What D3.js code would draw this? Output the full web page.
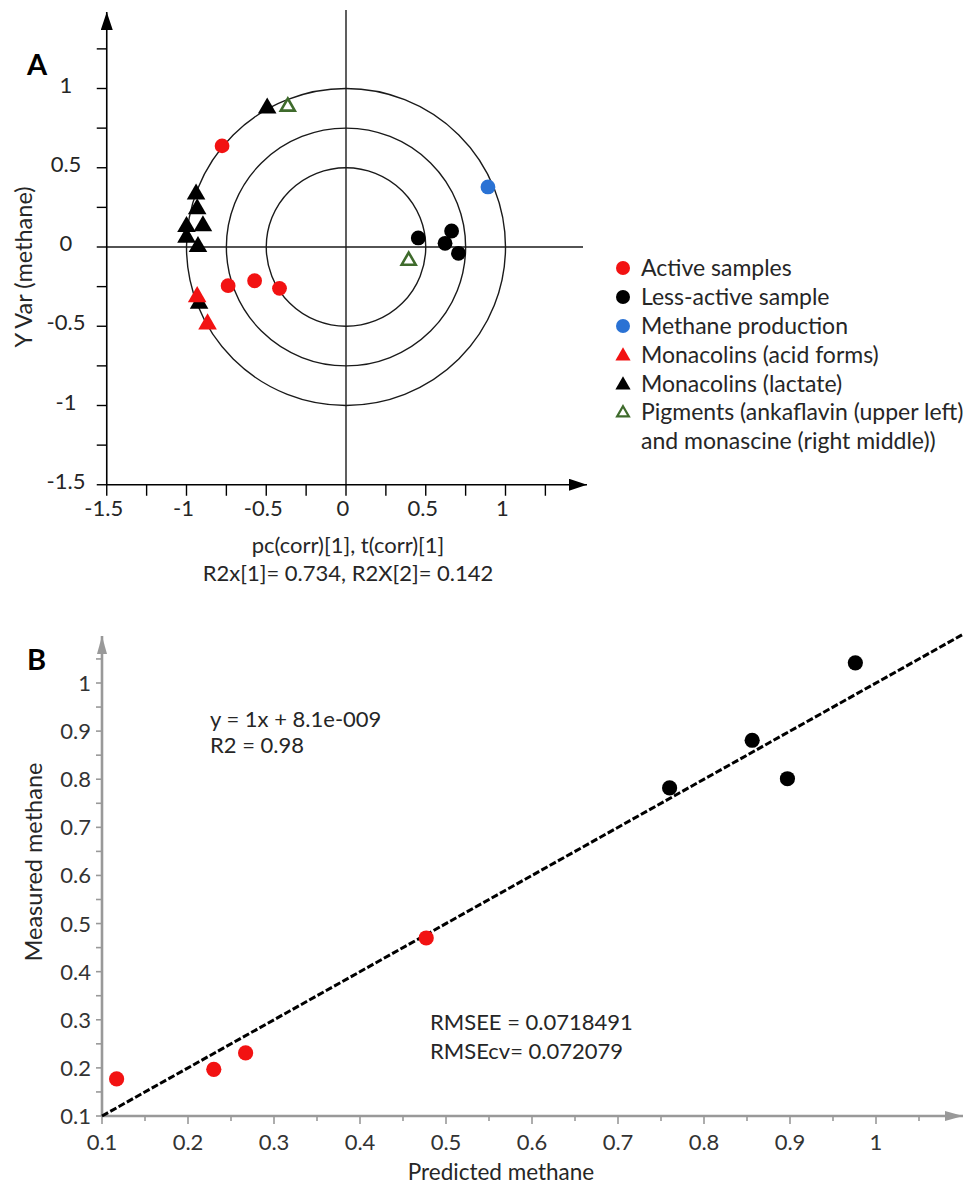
<!DOCTYPE html>
<html><head><meta charset="utf-8">
<script src="https://cdn.jsdelivr.net/npm/d3@7"></script>
<style>body{margin:0;background:#fff}svg{display:block}</style>
</head><body>
<script>
// ---------- DATA: Panel A ----------
const activeSamples = [[-0.777,0.638],[-0.739,-0.244],[-0.573,-0.213],[-0.417,-0.261]];
const lessActive = [[0.453,0.057],[0.621,0.023],[0.662,0.101],[0.705,-0.040]];
const methaneProd = [[0.890,0.379]];
const monacolinsAcid = [[-0.933,-0.314],[-0.868,-0.486]];
const monacolinsLactate = [[-0.494,0.876],[-0.940,0.333],[-0.933,0.240],[-1.0,0.128],[-0.897,0.133],[-1.0,0.061],[-0.928,0.002],[-0.921,-0.356]];
const pigments = [[-0.365,0.886],[0.393,-0.086]];
const circleRadii = [1, 0.75, 0.5];
const tickA = [-1.5,-1,-0.5,0,0.5,1];
const minorTickA = [-1.5,-1.25,-1,-0.75,-0.5,-0.25,0,0.25,0.5,0.75,1,1.25];
const legendLabels = ["Active samples","Less-active sample","Methane production","Monacolins (acid forms)","Monacolins (lactate)","Pigments (ankaflavin (upper left)","and monascine (right middle))"];

// ---------- DATA: Panel B ----------
const predActive = [0.117,0.230,0.267,0.477];
const measActive = [0.177,0.197,0.231,0.470];
const predLess = [0.760,0.856,0.897,0.976];
const measLess = [0.782,0.881,0.801,1.042];
const fitLine = [[0.1,0.1],[1.1,1.1]];
const tickB = [0.1,0.2,0.3,0.4,0.5,0.6,0.7,0.8,0.9,1];
const minorTickB = d3.range(0,20).map(i=>+(0.1+i*0.05).toFixed(2));

const W=971,H=1184;
const svg=d3.select("body").append("svg").attr("width",W).attr("height",H);
const FONT="Lato, 'Open Sans', sans-serif";
const TXT="#262626";

const defs=svg.append("defs");
function marker(id,color,len,wid){
  defs.append("marker").attr("id",id).attr("viewBox",`0 0 ${len} ${wid}`).attr("refX",len).attr("refY",wid/2)
    .attr("markerWidth",len).attr("markerHeight",wid).attr("markerUnits","userSpaceOnUse").attr("orient","auto")
    .append("path").attr("d",`M0,0 L${len},${wid/2} L0,${wid} z`).attr("fill",color);
}
marker("arrA","#000",18,12); marker("arrB","#999",18,10);

// ================= PANEL A =================
const xA=d3.scaleLinear().domain([-1.5,1.5]).range([346-1.5*159.5,346+1.5*159.5]);
const yA=d3.scaleLinear().domain([-1.5,1.5]).range([247+1.5*158.5,247-1.5*158.5]);
const gA=svg.append("g");
const axY=yA(-1.5), axX=xA(-1.5);

gA.selectAll("ellipse.ring").data(circleRadii).join("ellipse")
  .attr("cx",xA(0)).attr("cy",yA(0))
  .attr("rx",d=>xA(d)-xA(0)).attr("ry",d=>yA(0)-yA(d))
  .attr("fill","none").attr("stroke","#1a1a1a").attr("stroke-width",1.4);
gA.append("line").attr("x1",xA(0)).attr("x2",xA(0)).attr("y1",10).attr("y2",axY).attr("stroke","#1a1a1a").attr("stroke-width",1.4);
gA.append("line").attr("x1",axX).attr("x2",583).attr("y1",yA(0)).attr("y2",yA(0)).attr("stroke","#1a1a1a").attr("stroke-width",1.4);
gA.append("line").attr("x1",axX).attr("x2",587).attr("y1",axY).attr("y2",axY).attr("stroke","#000").attr("stroke-width",1.6).attr("marker-end","url(#arrA)");
gA.append("line").attr("x1",axX).attr("x2",axX).attr("y1",axY).attr("y2",12).attr("stroke","#000").attr("stroke-width",1.6).attr("marker-end","url(#arrA)");
gA.selectAll("line.tx").data(minorTickA).join("line").attr("x1",d=>xA(d)).attr("x2",d=>xA(d)).attr("y1",axY).attr("y2",axY+11).attr("stroke","#000").attr("stroke-width",1.4);
gA.selectAll("line.ty").data(minorTickA).join("line").attr("y1",d=>yA(d)).attr("y2",d=>yA(d)).attr("x1",axX-10).attr("x2",axX).attr("stroke","#000").attr("stroke-width",1.4);
gA.selectAll("text.tx").data(tickA).join("text").attr("x",d=>xA(d)-3).attr("y",516)
  .attr("text-anchor","middle").attr("font-family",FONT).attr("font-size",22).attr("fill",TXT).text(d=>d);
gA.selectAll("text.ty").data(tickA).join("text").attr("x",66).attr("y",d=>yA(d)+4)
  .attr("text-anchor","middle").attr("font-family",FONT).attr("font-size",22).attr("fill",TXT).text(d=>d);
gA.append("text").attr("x",27).attr("y",75).attr("font-family",FONT).attr("font-weight","bold").attr("font-size",29).text("A");
gA.append("text").attr("transform","translate(32,267) rotate(-90)").attr("text-anchor","middle").attr("font-family",FONT).attr("font-size",23.5).attr("fill",TXT).text("Y Var (methane)");
gA.append("text").attr("x",348).attr("y",553).attr("text-anchor","middle").attr("font-family",FONT).attr("font-size",22).attr("fill",TXT).text("pc(corr)[1], t(corr)[1]");
gA.append("text").attr("x",348).attr("y",581).attr("text-anchor","middle").attr("font-family",FONT).attr("font-size",22).attr("fill",TXT).text("R2x[1]= 0.734, R2X[2]= 0.142");

const RED="#f21212", BLUE="#2a72d4", GREEN="#3f6b2c";
const tri=d3.symbol().type(d3.symbolTriangle).size(150);
const triOpen=d3.symbol().type(d3.symbolTriangle).size(85);
function dots(data,color){gA.append("g").selectAll("circle").data(data).join("circle").attr("cx",d=>xA(d[0])).attr("cy",d=>yA(d[1])).attr("r",7.4).attr("fill",color);}
function tris(data,color){gA.append("g").selectAll("path").data(data).join("path").attr("transform",d=>`translate(${xA(d[0])},${yA(d[1])})`).attr("d",tri).attr("fill",color);}
dots(activeSamples,RED); dots(lessActive,"#000"); dots(methaneProd,BLUE);
tris(monacolinsLactate,"#000"); tris(monacolinsAcid,RED);
gA.append("g").selectAll("path").data(pigments).join("path").attr("transform",d=>`translate(${xA(d[0])},${yA(d[1])})`).attr("d",triOpen).attr("fill","none").attr("stroke",GREEN).attr("stroke-width",2.6);

// legend
const lg=svg.append("g");
const legY=[268,297,326,355,384,412,441];
const legMarks=[["c",RED],["c","#000"],["c",BLUE],["t",RED],["t","#000"],["o",GREEN],null];
legendLabels.forEach((t,i)=>{
  const y=legY[i], m=legMarks[i];
  if(m){
    if(m[0]==="c") lg.append("circle").attr("cx",623).attr("cy",y).attr("r",7).attr("fill",m[1]);
    else if(m[0]==="t") lg.append("path").attr("transform",`translate(623,${y+1})`).attr("d",d3.symbol().type(d3.symbolTriangle).size(100)).attr("fill",m[1]);
    else lg.append("path").attr("transform",`translate(623,${y+1})`).attr("d",d3.symbol().type(d3.symbolTriangle).size(60)).attr("fill","none").attr("stroke",m[1]).attr("stroke-width",2.2);
  }
  lg.append("text").attr("x",641).attr("y",y+8).attr("font-family",FONT).attr("font-size",23).attr("fill",TXT).text(t);
});

// ================= PANEL B =================
const xB=d3.scaleLinear().domain([0.1,1.1]).range([102,962]);
const yB=d3.scaleLinear().domain([0.1,1]).range([1116,683]);
const gB=svg.append("g");
const GR="#999";
const isMajor=d=>Math.abs(d*10-Math.round(d*10))<0.01;
gB.append("line").attr("x1",xB(0.1)).attr("x2",963).attr("y1",yB(0.1)).attr("y2",yB(0.1)).attr("stroke",GR).attr("stroke-width",2.6).attr("marker-end","url(#arrB)");
gB.append("line").attr("x1",xB(0.1)).attr("x2",xB(0.1)).attr("y1",yB(0.1)).attr("y2",636).attr("stroke",GR).attr("stroke-width",2.6).attr("marker-end","url(#arrB)");
gB.selectAll("line.tx").data(minorTickB).join("line").attr("x1",d=>xB(d)).attr("x2",d=>xB(d)).attr("y1",yB(0.1)).attr("y2",d=>yB(0.1)+(isMajor(d)?8:5)).attr("stroke",GR).attr("stroke-width",1.6);
gB.selectAll("line.ty").data(minorTickB.filter(d=>d<=1.05)).join("line").attr("y1",d=>yB(d)).attr("y2",d=>yB(d)).attr("x1",xB(0.1)-6).attr("x2",xB(0.1)).attr("stroke",GR).attr("stroke-width",1.6);
gB.selectAll("text.tx").data(tickB).join("text").attr("x",d=>xB(d)).attr("y",1150)
  .attr("text-anchor","middle").attr("font-family",FONT).attr("font-size",22).attr("fill","#333").text(d=>d);
gB.selectAll("text.ty").data(tickB).join("text").attr("x",91).attr("y",d=>yB(d)+8)
  .attr("text-anchor","end").attr("font-family",FONT).attr("font-size",22).attr("fill","#333").text(d=>d);
gB.append("text").attr("x",27).attr("y",670).attr("font-family",FONT).attr("font-weight","bold").attr("font-size",29).text("B");
gB.append("text").attr("transform","translate(42,862) rotate(-90)").attr("text-anchor","middle").attr("font-family",FONT).attr("font-size",23.5).attr("fill",TXT).text("Measured methane");
gB.append("text").attr("x",501).attr("y",1180).attr("text-anchor","middle").attr("font-family",FONT).attr("font-size",22.5).attr("fill",TXT).text("Predicted methane");
gB.append("text").attr("x",210).attr("y",727).attr("font-family",FONT).attr("font-size",22).attr("fill",TXT).text("y = 1x + 8.1e-009");
gB.append("text").attr("x",210).attr("y",753).attr("font-family",FONT).attr("font-size",22).attr("fill",TXT).text("R2 = 0.98");
gB.append("text").attr("x",430).attr("y",1030).attr("font-family",FONT).attr("font-size",22).attr("fill",TXT).text("RMSEE = 0.0718491");
gB.append("text").attr("x",430).attr("y",1059).attr("font-family",FONT).attr("font-size",22).attr("fill",TXT).text("RMSEcv= 0.072079");
gB.append("path").datum(fitLine).attr("d",d3.line().x(d=>xB(d[0])).y(d=>yB(d[1]))).attr("stroke","#000").attr("stroke-width",3).attr("stroke-dasharray","7,2.5").attr("fill","none");
gB.append("g").selectAll("circle").data(predActive.map((p,i)=>[p,measActive[i]])).join("circle").attr("cx",d=>xB(d[0])).attr("cy",d=>yB(d[1])).attr("r",7.6).attr("fill",RED);
gB.append("g").selectAll("circle").data(predLess.map((p,i)=>[p,measLess[i]])).join("circle").attr("cx",d=>xB(d[0])).attr("cy",d=>yB(d[1])).attr("r",7.6).attr("fill","#000");
</script>
</body></html>
